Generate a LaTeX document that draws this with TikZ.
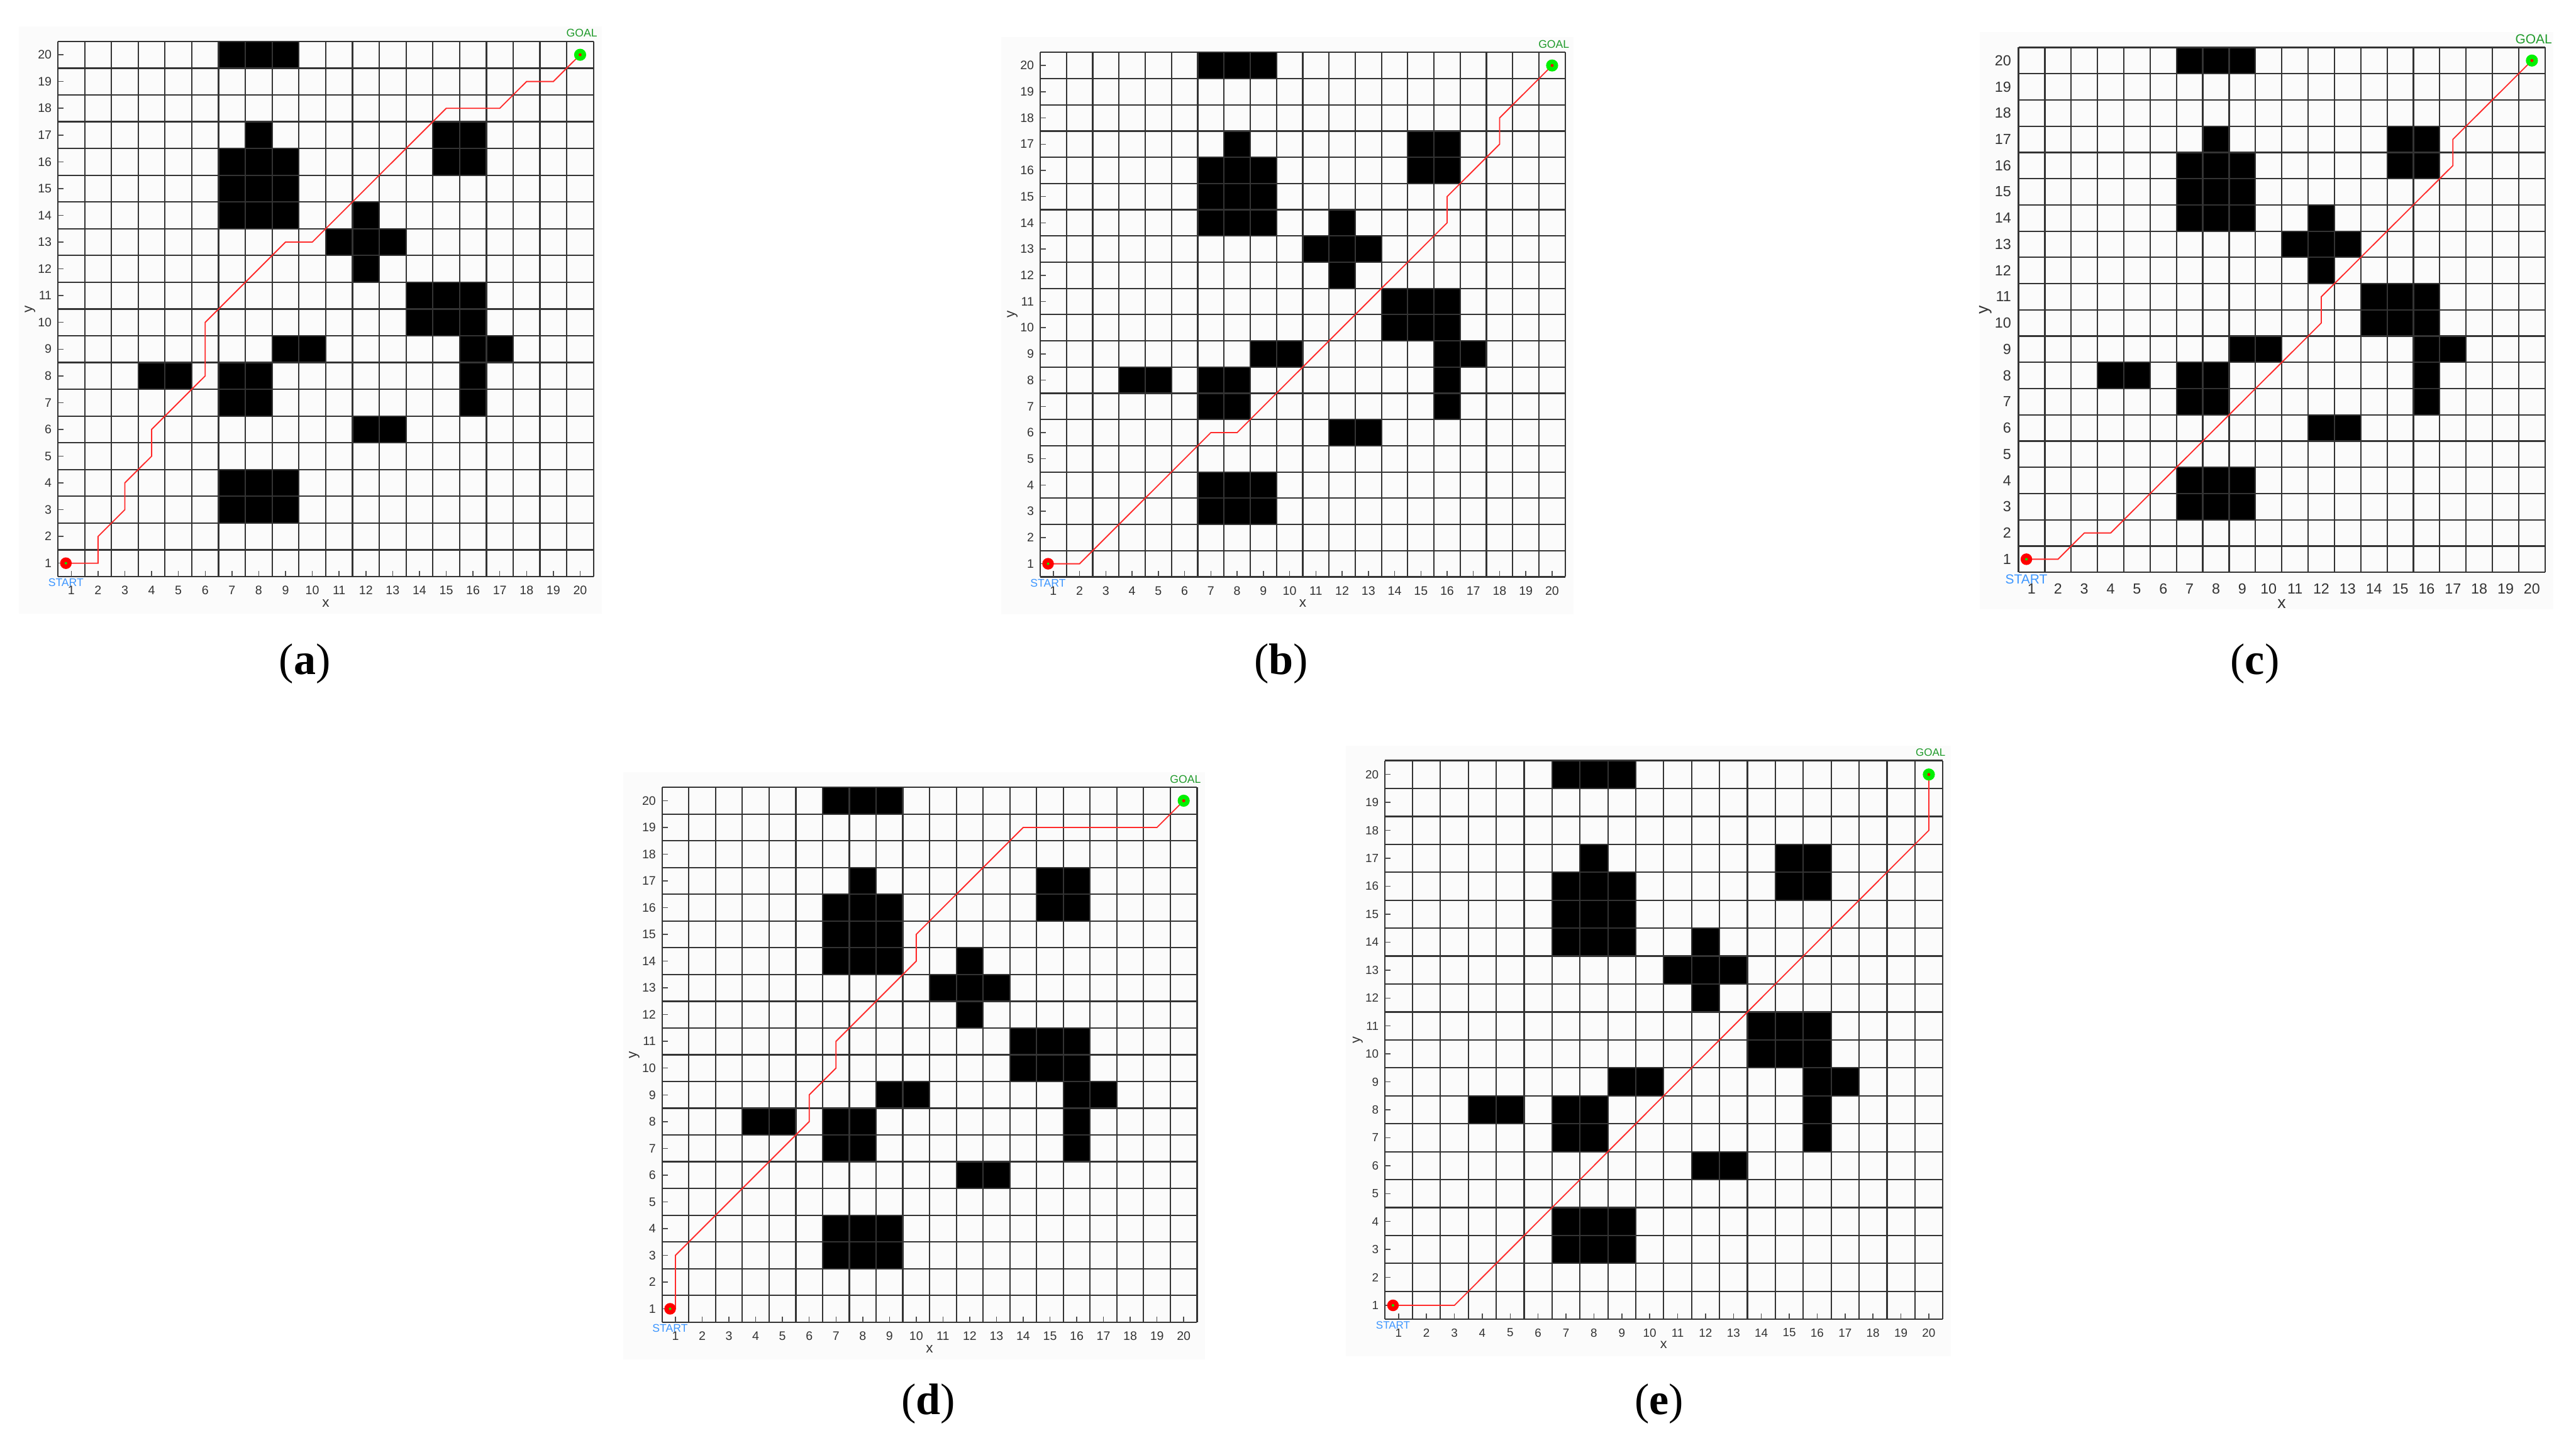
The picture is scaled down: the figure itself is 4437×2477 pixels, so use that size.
\documentclass[tikz,border=0pt]{standalone}
\usepackage{fontspec}
\newfontfamily\axisfont{Liberation Sans}
\newfontfamily\capfont{Liberation Serif}
\definecolor{startblue}{HTML}{3D96FF}
\definecolor{goalgreen}{HTML}{1F9A2A}
\definecolor{pathred}{HTML}{FF2A2A}
\definecolor{ticktext}{HTML}{333333}
\definecolor{limegreen}{HTML}{00F000}
\tikzset{
  gridline/.style={draw=black!80, line width=0.6pt},
  obstacle/.style={fill=black},
  pathline/.style={draw=pathred, line width=0.5pt, line join=miter},
  ticklabel/.style={text=ticktext, inner sep=0pt},
  tickmark/.style={draw=black!70, line width=0.4pt},
  panelbg/.style={fill=black!1.5, draw=none},
  caption/.style={font=\capfont\fontsize{19}{22}\selectfont, inner sep=0pt},
  startmark/.style={circle, fill=red, minimum size=5pt, inner sep=0pt},
  goalmark/.style={circle, fill=limegreen, minimum size=5.2pt, inner sep=0pt},
}
% #1 left, #2 top, #3 width, #4 height (px), #5 name, #6 font size, #7 ticks, #8 path middle
\newcommand\gridpanel[8]{%
\pgfmathsetmacro\gpcw{#3/20}%
\pgfmathsetmacro\gpch{#4/20}%
\pgfmathsetmacro\gpcwpt{#3/20*0.25}%
\pgfmathsetmacro\gpchpt{#4/20*0.25}%
\pgfmathsetmacro\gps{#6/5.3}%
\pgfmathsetmacro\gpxl{-6*\gps}%
\pgfmathsetmacro\gpyl{-2.5*\gps}%
\pgfmathsetmacro\gpxt{-11.5*\gps}%
\pgfmathsetmacro\gpyt{-12*\gps}%
\pgfmathsetmacro\gpsl{-2.6*\gps}%
\pgfmathsetmacro\gpfs{#6*0.9}%
\pgfmathsetmacro\gpaf{#6*1.15}%
\fill[panelbg] ({#1-67},{#2-26}) rectangle ({#1+#3+14},{#2+#4+64});
\begin{scope}[shift={({#1-\gpcw/2},{#2+20.5*\gpch})}, x=\gpcwpt pt, y=\gpchpt pt]
  \fill[obstacle] (6.5,19.5) rectangle (9.5,20.5);
  \fill[obstacle] (7.5,16.5) rectangle (8.5,17.5);
  \fill[obstacle] (6.5,13.5) rectangle (9.5,16.5);
  \fill[obstacle] (11.5,11.5) rectangle (12.5,14.5);
  \fill[obstacle] (10.5,12.5) rectangle (13.5,13.5);
  \fill[obstacle] (14.5,15.5) rectangle (16.5,17.5);
  \fill[obstacle] (13.5,9.5) rectangle (16.5,11.5);
  \fill[obstacle] (15.5,6.5) rectangle (16.5,9.5);
  \fill[obstacle] (16.5,8.5) rectangle (17.5,9.5);
  \fill[obstacle] (8.5,8.5) rectangle (10.5,9.5);
  \fill[obstacle] (3.5,7.5) rectangle (5.5,8.5);
  \fill[obstacle] (6.5,6.5) rectangle (8.5,8.5);
  \fill[obstacle] (11.5,5.5) rectangle (13.5,6.5);
  \fill[obstacle] (6.5,2.5) rectangle (9.5,4.5);
  \foreach \i in {0,...,20} {
    \draw[gridline] (\i+0.5,0.5) -- (\i+0.5,20.5);
    \draw[gridline] (0.5,\i+0.5) -- (20.5,\i+0.5);
  }
  \ifnum#7=1
  \foreach \i in {1,...,20} {
    \draw[tickmark] (\i,0.5) -- ++(0pt,2.5pt);
    \draw[tickmark] (0.5,\i) -- ++(2.5pt,0pt);
  }
  \fi
  \foreach \i in {1,...,20} {
    \node[ticklabel, font={\axisfont\fontsize{#6}{#6}\selectfont}, yshift=\gpxl pt] (#5xl\i) at (\i,0.5) {\i};
    \node[ticklabel, font={\axisfont\fontsize{#6}{#6}\selectfont}, anchor=east, xshift=\gpyl pt] (#5yl\i) at (0.5,\i) {\i};
  }
  \node[ticklabel, font={\axisfont\fontsize{\gpaf}{\gpaf}\selectfont}, yshift=\gpxt pt] (#5xt) at (10.5,0.5) {x};
  \node[ticklabel, font={\axisfont\fontsize{\gpaf}{\gpaf}\selectfont}, rotate=90] (#5yt) at ([xshift=\gpyt pt]0.5,10.5) {y};
  \coordinate (#5start) at (0.8,1);
  \coordinate (#5goal) at (20,20);
  \draw[pathline] (#5start) -- #8 -- (#5goal);
  \node[startmark] (#5sm) at (#5start) {};
  \fill[limegreen] (#5sm.center) circle[radius=0.55pt];
  \node[goalmark] (#5gm) at (#5goal) {};
  \fill[red] (#5gm.center) circle[radius=0.65pt];
  \node[inner sep=0pt, text=startblue, font={\axisfont\fontsize{\gpfs}{\gpfs}\selectfont}, yshift=\gpsl pt] (#5sl) at (0.8,0.5) {START};
  \node[inner sep=0pt, text=goalgreen, font={\axisfont\fontsize{\gpfs}{\gpfs}\selectfont}, yshift=3.5pt, xshift=0.75pt] (#5gl) at (20,20.5) {GOAL};
\end{scope}
}
\begin{document}
\begin{tikzpicture}[x=0.25pt, y=-0.25pt]
\useasboundingbox (0,0) rectangle (4437,2477);
\fill[white] (0,0) rectangle (4437,2477);
\gridpanel{99.7}{71.3}{922.6}{922}{pa}{5.3}{1}{(2,1) -- (2,2) -- (3,3) -- (3,4) -- (4,5) -- (4,6) -- (6,8) -- (6,10) -- (9,13) -- (10,13) -- (15,18) -- (17,18) -- (18,19) -- (19,19)}
\gridpanel{1791.7}{90.2}{904.3}{903.6}{pb}{5.3}{1}{(2,1) -- (7,6) -- (8,6) -- (16,14) -- (16,15) -- (18,17) -- (18,18)}
\gridpanel{3476.7}{81.7}{907}{904.3}{pc}{6.3}{0}{(2,1) -- (3,2) -- (4,2) -- (12,10) -- (12,11) -- (17,16) -- (17,17)}
\gridpanel{1140.4}{1356.4}{921.5}{921.4}{pd}{5.3}{1}{(1,1) -- (1,3) -- (6,8) -- (6,9) -- (7,10) -- (7,11) -- (10,14) -- (10,15) -- (14,19) -- (19,19)}
\gridpanel{2384.9}{1310.2}{961.4}{962.7}{pe}{5.1}{1}{(3,1) -- (20,18)}
\node[caption] (capa) at (525,1143) {(\textbf{a})};
\node[caption] (capb) at (2207,1143) {(\textbf{b})};
\node[caption] (capc) at (3884,1143) {(\textbf{c})};
\node[caption] (capd) at (1599,2419) {(\textbf{d})};
\node[caption] (cape) at (2858,2419) {(\textbf{e})};
\end{tikzpicture}
\end{document}
